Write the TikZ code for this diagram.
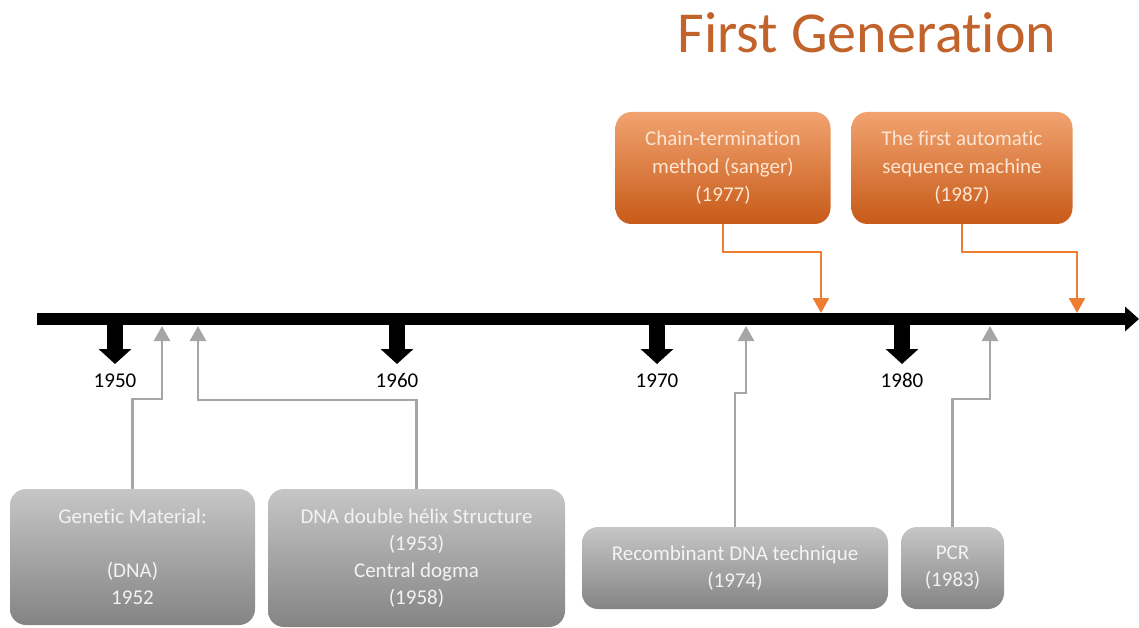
\documentclass[tikz,border=0pt]{standalone}
\usepackage{fontspec}
\setmainfont{Carlito}[Ligatures=NoCommon]
\usetikzlibrary{arrows.meta}

\definecolor{titleorange}{RGB}{193,99,42}
\definecolor{lineorange}{RGB}{237,125,49}
\definecolor{otop}{RGB}{241,163,112}
\definecolor{obot}{RGB}{199,90,24}
\definecolor{otext}{RGB}{253,229,210}
\definecolor{gtop}{RGB}{198,198,198}
\definecolor{gbot}{RGB}{132,132,132}
\definecolor{gtext}{RGB}{243,243,243}
\definecolor{gline}{RGB}{166,166,166}

\begin{document}
\begin{tikzpicture}[x=1pt,y=-1pt,
    graybox/.style={rounded corners=16pt, top color=gtop, bottom color=gbot, text=gtext,
      align=center, inner sep=0pt, font=\fontsize{21}{27}\selectfont},
    orangebox/.style={rounded corners=16pt, top color=otop, bottom color=obot, text=otext,
      align=center, inner sep=0pt, font=\fontsize{21}{28}\selectfont},
    grayline/.style={draw=gline, line width=2.5pt, -{Triangle[width=16pt,length=15pt]}},
    orangeline/.style={draw=lineorange, line width=2.3pt, -{Triangle[width=16pt,length=15pt]}},
    yearlabel/.style={font=\fontsize{21}{25}\selectfont, anchor=base, inner sep=0pt}]

    \useasboundingbox (0,0) rectangle (1139,628);

    \node[font=\fontsize{58}{60}\selectfont, text=titleorange, anchor=base, inner sep=0pt] (title) at (867,53) {First Generation};

    %timeline
    \coordinate (tl0) at (37,319);
    \coordinate (tl1) at (1139,319);
    \draw[line width=12pt, -{Triangle[width=24pt,length=14pt]}] (tl0) -- (tl1);

    \foreach \x/\yr in {115/1950,397/1960,657/1970,902/1980} {
      \node[yearlabel] (y\yr) at (\x,387) {\yr};
      \coordinate (t\yr) at (\x,325);
      \coordinate (h\yr) at (\x,364);
      \draw[line width=16pt, -{Triangle[width=32pt,length=15pt]}] (t\yr) -- (h\yr);
    }

    %boxes below
    \node[graybox, minimum width=245pt, minimum height=136pt] (gm) at (132.5,557) {Genetic Material:\\[27pt](DNA)\\1952};
    \node[graybox, minimum width=297pt, minimum height=138pt] (dh) at (416.5,558) {DNA double hélix Structure\\(1953)\\Central dogma\\(1958)};
    \node[graybox, minimum width=306pt, minimum height=82pt] (rd) at (735,568) {Recombinant DNA technique\\(1974)};
    \node[graybox, minimum width=103pt, minimum height=82pt] (pcr) at (952.5,568) {PCR\\(1983)};

    %boxes above
    \node[orangebox, minimum width=215pt, minimum height=112pt] (ct) at (723,168) {Chain-termination\\method (sanger)\\(1977)};
    \node[orangebox, minimum width=221pt, minimum height=112pt] (am) at (962,168) {The first automatic\\sequence machine\\(1987)};

    %connectors
    \coordinate (a1952) at (162,326);
    \coordinate (a1953) at (198,326);
    \coordinate (a1974) at (746,326);
    \coordinate (a1983) at (990,326);
    \coordinate (a1977) at (821,313);
    \coordinate (a1987) at (1077,313);

    \draw[grayline] (gm.north) -- ++(0,-90) -| (a1952);
    \draw[grayline] (dh.north) -- ++(0,-89) -| (a1953);
    \draw[grayline] (rd.north) -- ++(0,-134) -| (a1974);
    \draw[grayline] (pcr.north) -- ++(0,-128) -| (a1983);
    \draw[orangeline] (ct.south) -- ++(0,28) -| (a1977);
    \draw[orangeline] (am.south) -- ++(0,28) -| (a1987);

\end{tikzpicture}
\end{document}
